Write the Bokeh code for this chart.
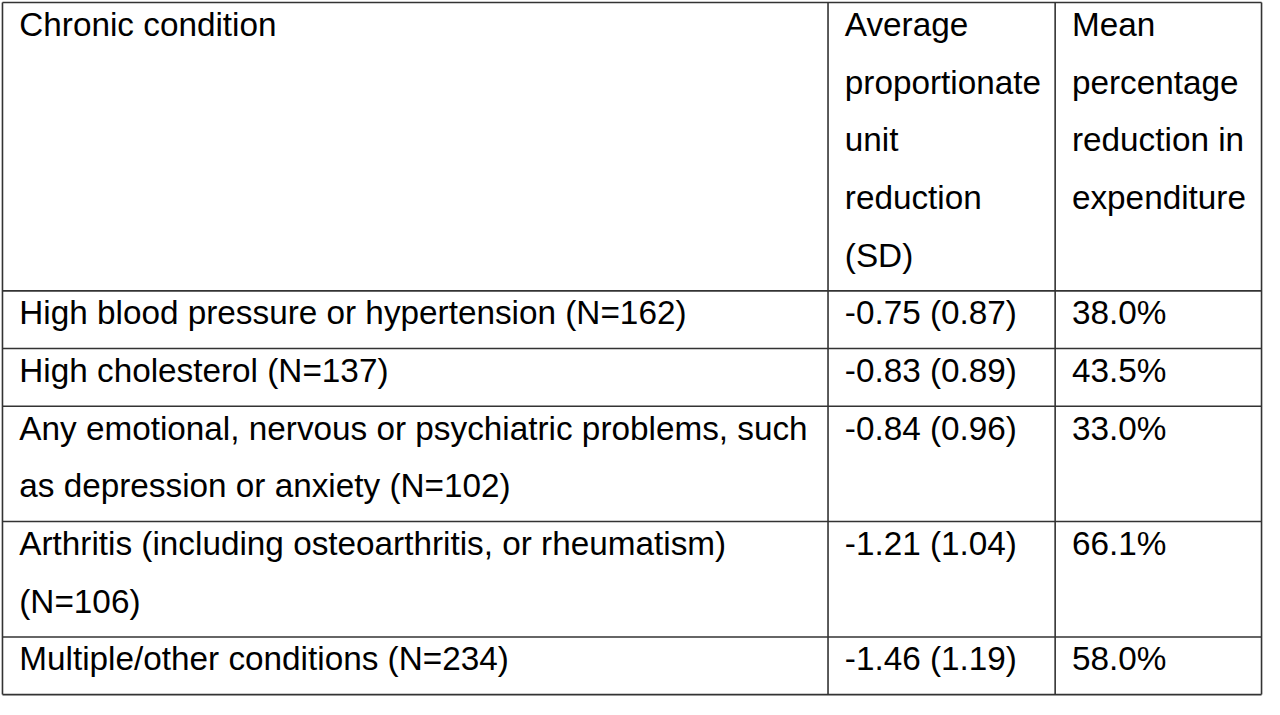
from bokeh.plotting import figure
from bokeh.models import ColumnDataSource, Range1d
from bokeh.core.properties import value
from bokeh.embed import file_html
from bokeh.resources import INLINE

# table content (line breaks as in the reference)
header = ["Chronic condition",
          "Average\nproportionate\nunit\nreduction\n(SD)",
          "Mean\npercentage\nreduction in\nexpenditure"]
conditions = ["High blood pressure or hypertension (N=162)",
              "High cholesterol (N=137)",
              "Any emotional, nervous or psychiatric problems, such\nas depression or anxiety (N=102)",
              "Arthritis (including osteoarthritis, or rheumatism)\n(N=106)",
              "Multiple/other conditions (N=234)"]
unit_reduction = ["-0.75 (0.87)", "-0.83 (0.89)", "-0.84 (0.96)", "-1.21 (1.04)", "-1.46 (1.19)"]
pct_reduction = ["38.0%", "43.5%", "33.0%", "66.1%", "58.0%"]

rows = [header] + [list(r) for r in zip(conditions, unit_reduction, pct_reduction)]

# layout in reference pixels
col_edges = [2, 838, 1068, 1277]
pad_x = 17
line_h = 59
top = 2

W, H = 1264, 699
p = figure(width=W, height=H, x_range=Range1d(0, 1280), y_range=Range1d(715, 0),
           toolbar_location=None, output_backend="svg", min_border=0,
           outline_line_color=None, background_fill_color="white")
p.axis.visible = False
p.grid.visible = False

# row edges from the number of text lines in each row
row_edges = [top]
for r in rows:
    n = max(c.count("\n") + 1 for c in r)
    row_edges.append(row_edges[-1] + n * line_h)

tx, ty, tt = [], [], []
for i, r in enumerate(rows):
    for j, cell in enumerate(r):
        for k, line in enumerate(cell.split("\n")):
            tx.append(col_edges[j] + pad_x)
            ty.append(row_edges[i] + line_h / 2 - 7 + k * line_h)
            tt.append(line)

p.text(x="x", y="y", text="t", source=ColumnDataSource(dict(x=tx, y=ty, t=tt)),
       text_font=value("Liberation Sans"), text_font_size="33.3px",
       text_color="black", text_baseline="middle", text_align="left")

hx0 = [col_edges[0]] * len(row_edges)
hx1 = [col_edges[-1]] * len(row_edges)
vy0 = [row_edges[0]] * len(col_edges)
vy1 = [row_edges[-1]] * len(col_edges)
p.segment(x0=hx0 + col_edges, y0=row_edges + vy0, x1=hx1 + col_edges, y1=row_edges + vy1,
          line_color="#333333", line_width=1.6)

open("out.html", "w").write(file_html(p, INLINE))
